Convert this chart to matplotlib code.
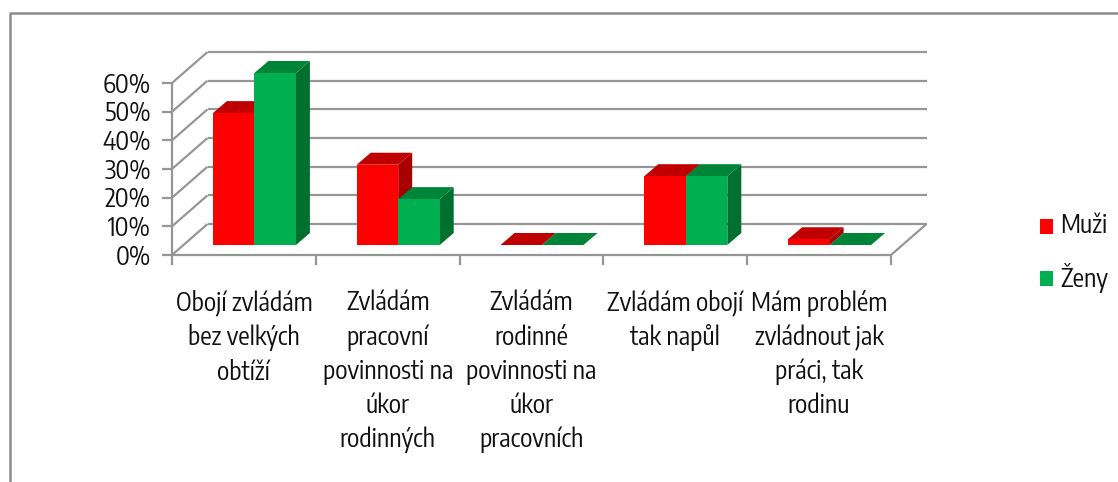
#!/usr/bin/env python3

import matplotlib.pyplot as plt
from matplotlib.patches import Polygon

# Data
categories = ['Obojí zvládám\nbez velkých\nobtíží',
              'Zvládám\npracovní\npovinnosti na\núkor\nrodinných',
              'Zvládám\nrodinné\npovinnosti na\núkor\npracovních',
              'Zvládám obojí\ntak napůl',
              'Mám problém\nzvládnout jak\npráci, tak\nrodinu']
muzi = [46, 28, 0, 24, 2]
zeny = [60, 16, 0, 24, 0]
y_ticks = [0, 10, 20, 30, 40, 50, 60]

W, H = 1118, 482
PX_X = 143.8      # pixels per category
PX_Y = 172 / 60   # pixels per percent

plt.rcParams['font.family'] = ['Encode Sans Condensed', 'Lato', 'DejaVu Sans']

fig = plt.figure(figsize=(W / 100, H / 100), dpi=100)
ax = fig.add_axes([172 / W, 1 - 255 / H, 719 / W, 172 / H])
ax.set_xlim(0, 5)
ax.set_ylim(0, 60)
ax.axis('off')


def dx(px):
    return px / PX_X


def dy(px):
    return px / PX_Y


def line(xs, ys, z=1, lw=1.6):
    ax.plot(xs, ys, color='#969696', lw=lw, zorder=z, clip_on=False,
            solid_capstyle='butt')


def poly(points, color, z):
    ax.add_patch(Polygon(points, closed=True, facecolor=color, edgecolor='none',
                         zorder=z, clip_on=False))


# Chart frame: only the top and left edges are in the picture
fig.add_artist(plt.Line2D([10 / W, 10 / W, 1], [0, 1 - 13 / H, 1 - 13 / H],
                          color='#8c8c8c', lw=1.8))

# Walls and gridlines
back_x, back_y = dx(35.5), dy(31)
for t in y_ticks:
    line([0, back_x], [t, t + back_y])
    line([back_x, 5 + back_x], [t + back_y, t + back_y])
    line([-dx(10), 0], [t, t])
    ax.text(-dx(21), t - dy(2.5), '%d%%' % t, ha='right', va='center', fontsize=18.3,
            color='#111111', clip_on=False)
line([0, 0], [0, 60])
line([0, 5], [0, 0])
line([5, 5 + back_x], [0, back_y])
for i in range(6):
    line([i, i], [0, -dy(10)])

# Bars
bar_w = dx(41.5)
depth_x, depth_y = dx(14), dy(12)
floor = dy(10)
series = [(muzi, '#ff0000', '#c00000', '#a80000', -bar_w),
          (zeny, '#00b050', '#008438', '#007030', 0)]
for i in range(5):
    centre = i + 0.5 + dx(10.5)
    for values, front, top, side, off in series:
        v = values[i]
        x0 = centre + off
        x1 = x0 + bar_w
        z = 3 + i
        if v > 0:
            poly([(x1, floor), (x1 + depth_x, floor + depth_y),
                  (x1 + depth_x, floor + v + depth_y), (x1, floor + v)], side, z)
        poly([(x0, floor + v), (x1, floor + v),
              (x1 + depth_x, floor + v + depth_y),
              (x0 + depth_x, floor + v + depth_y)], top, z)
        if v > 0:
            poly([(x0, floor), (x1, floor), (x1, floor + v), (x0, floor + v)],
                 front, z + 0.5)

# Category labels
for i, label in enumerate(categories):
    ax.text(i + 0.5, -dy(35), label, ha='center', va='top', fontsize=18.3,
            linespacing=1.37, color='#111111', clip_on=False)

# Legend
for y_px, name, color in [(226, 'Muži', '#ff0000'), (278, 'Ženy', '#00b050')]:
    fig.add_artist(plt.Rectangle((1040 / W, 1 - (y_px + 7.5) / H), 13 / W, 15 / H,
                                 transform=fig.transFigure, facecolor=color,
                                 edgecolor='none'))
    fig.text(1060 / W, 1 - y_px / H, name, ha='left', va='center',
             fontsize=18.3, color='#111111')

fig.savefig('out.png', dpi=100)
